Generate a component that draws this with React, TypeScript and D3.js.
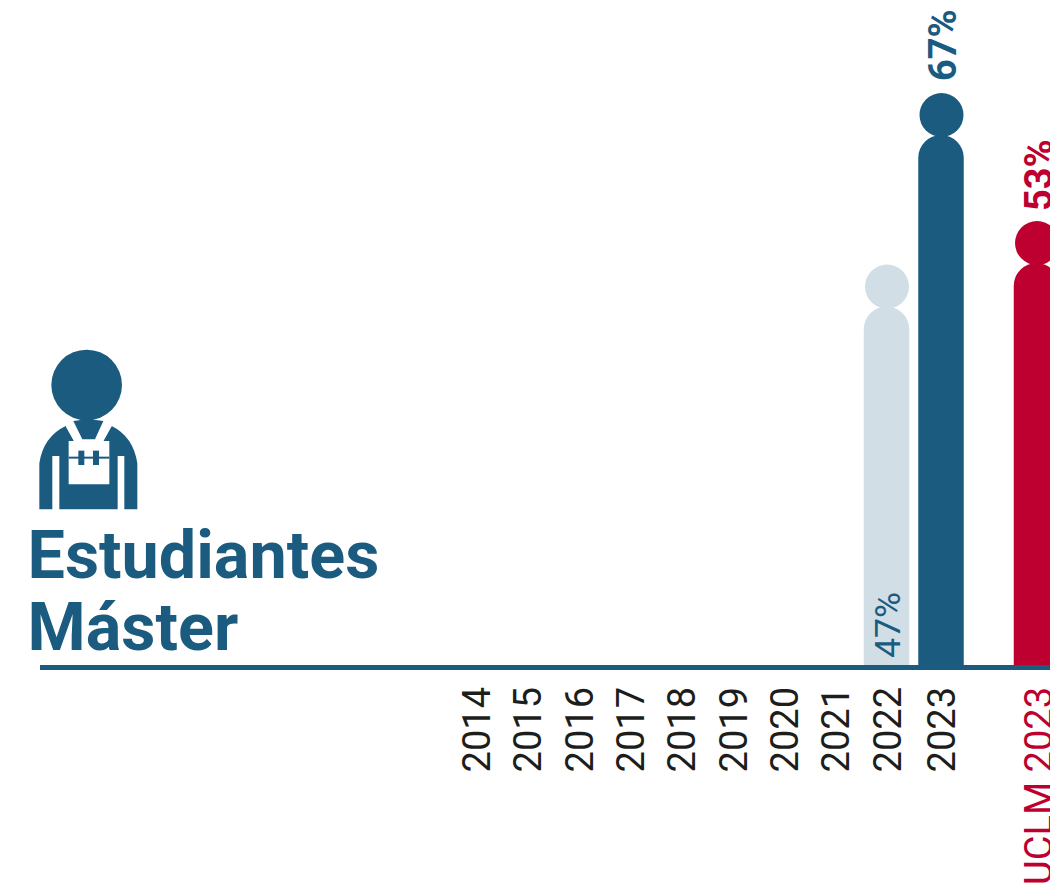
import React, { useEffect, useRef } from 'react';
import * as d3 from 'd3';

const years = [2014, 2015, 2016, 2017, 2018, 2019, 2020, 2021, 2022, 2023];
const barYears = [2022, 2023];
const barValues = [46.9, 67];
const barLabels = ['47%', '67%'];
const uclmLabel = 'UCLM 2023';
const uclmValue = 52;
const uclmText = '53%';
const titleLines = ['Estudiantes', 'Máster'];

const NAVY = '#1a5b7f';
const LIGHT = '#d1dee6';
const RED = '#bd0030';
const INK = '#1d1d1b';
const FONT = 'Roboto, sans-serif';

export default function App() {
  const ref = useRef<SVGSVGElement | null>(null);

  useEffect(() => {
    if (!ref.current) return;
    const svg = d3.select(ref.current);
    svg.selectAll('*').remove();

    const width = 1050;
    const height = 890;
    const baseY = 665;
    const barW = 45.5;
    const headR = 22;

    // the 2023 slot sits a little further out than the even spacing of the others
    const x = d3.scaleLinear().domain([2014, 2022, 2023]).range([476, 886.5, 941]);
    const uclmX = 1036.5;
    const y = d3.scaleLinear().domain([0, 67]).range([baseY, 93]);

    // a bar is a little person: round-topped body with a head; y(v) is the top of the head
    const person = (g: d3.Selection<any, any, any, any>, cx: number, v: number, fill: string) => {
      const top = y(v);
      const bodyTop = top + 2 * headR - 2;
      const r = barW / 2;
      const p = d3.path();
      p.moveTo(cx - r, baseY);
      p.lineTo(cx - r, bodyTop + r);
      p.arc(cx, bodyTop + r, r, Math.PI, 0);
      p.lineTo(cx + r, baseY);
      p.closePath();
      g.append('path').attr('d', p.toString()).attr('fill', fill);
      g.append('circle').attr('cx', cx + 0.5).attr('cy', top + headR).attr('r', headR).attr('fill', fill);
    };

    const vText = (bx: number, yPos: number, txt: string, size: number, fill: string, weight = 400, anchor = 'start') =>
      svg.append('text')
        .attr('transform', `translate(${bx},${yPos}) rotate(-90)`)
        .attr('font-family', FONT)
        .attr('font-size', size)
        .attr('font-weight', weight)
        .attr('fill', fill)
        .attr('text-anchor', anchor)
        .text(txt);

    const bars = svg.append('g');
    barYears.forEach((yr, i) => {
      person(bars, x(yr), barValues[i], i === 0 ? LIGHT : NAVY);
    });
    person(bars, uclmX, uclmValue, RED);

    // baseline
    svg.append('rect').attr('x', 40).attr('y', baseY).attr('width', width - 40).attr('height', 5).attr('fill', NAVY);

    // tick labels
    years.forEach(yr => vText(x(yr) + 14, 687, String(yr), 38, INK, 400, 'end'));
    vText(uclmX + 15, 687, uclmLabel, 38, RED, 400, 'end');

    // value labels
    vText(x(2022) + 13.5, 658, barLabels[0], 35.5, NAVY);
    vText(x(2023) + 15, y(barValues[1]) - 12, barLabels[1], 38, NAVY, 700);
    vText(uclmX + 15, y(uclmValue) - 10, uclmText, 38, RED, 700);

    // title
    svg.append('g').selectAll('text')
      .data(titleLines)
      .join('text')
      .attr('x', 27.5)
      .attr('y', (_, i) => 578 + i * 72)
      .attr('font-family', FONT)
      .attr('font-size', 66.5)
      .attr('font-weight', 700)
      .attr('fill', NAVY)
      .text(d => d);

    // student icon, traced at 3x
    const icon = svg.append('g').attr('transform', 'translate(20,340) scale(0.3333)');
    icon.append('circle').attr('cx', 200).attr('cy', 135).attr('r', 106).attr('fill', NAVY);
    icon.append('path').attr('fill', NAVY)
      .attr('d', 'M137,258 Q70,290 58,370 V508 H97 V348 H118 V508 H293 V348 H313 V508 H352 V370 Q340,290 275,258 L250,303 H162 Z');
    icon.append('path').attr('fill', 'white')
      .attr('d', 'M146,303 H268 V433 H146 Z');
    icon.append('path').attr('fill', 'white')
      .attr('d', 'M137,258 L160,243 L187,298 H225 L250,243 L275,258 L250,303 H162 Z');
    icon.append('path').attr('fill', NAVY)
      .attr('d', 'M160,243 Q205,235 250,243 L225,298 H187 Z');
    icon.append('rect').attr('x', 146).attr('y', 350).attr('width', 122).attr('height', 6).attr('fill', NAVY);
    icon.append('rect').attr('x', 175).attr('y', 332).attr('width', 18).attr('height', 43).attr('fill', NAVY);
    icon.append('rect').attr('x', 219).attr('y', 332).attr('width', 18).attr('height', 43).attr('fill', NAVY);

    svg.attr('viewBox', `0 0 ${width} ${height}`);
  }, []);

  return (
    <svg
      ref={ref}
      width={1050}
      height={890}
      style={{ position: 'absolute', left: 0, top: 0, background: 'white' }}
    />
  );
}
